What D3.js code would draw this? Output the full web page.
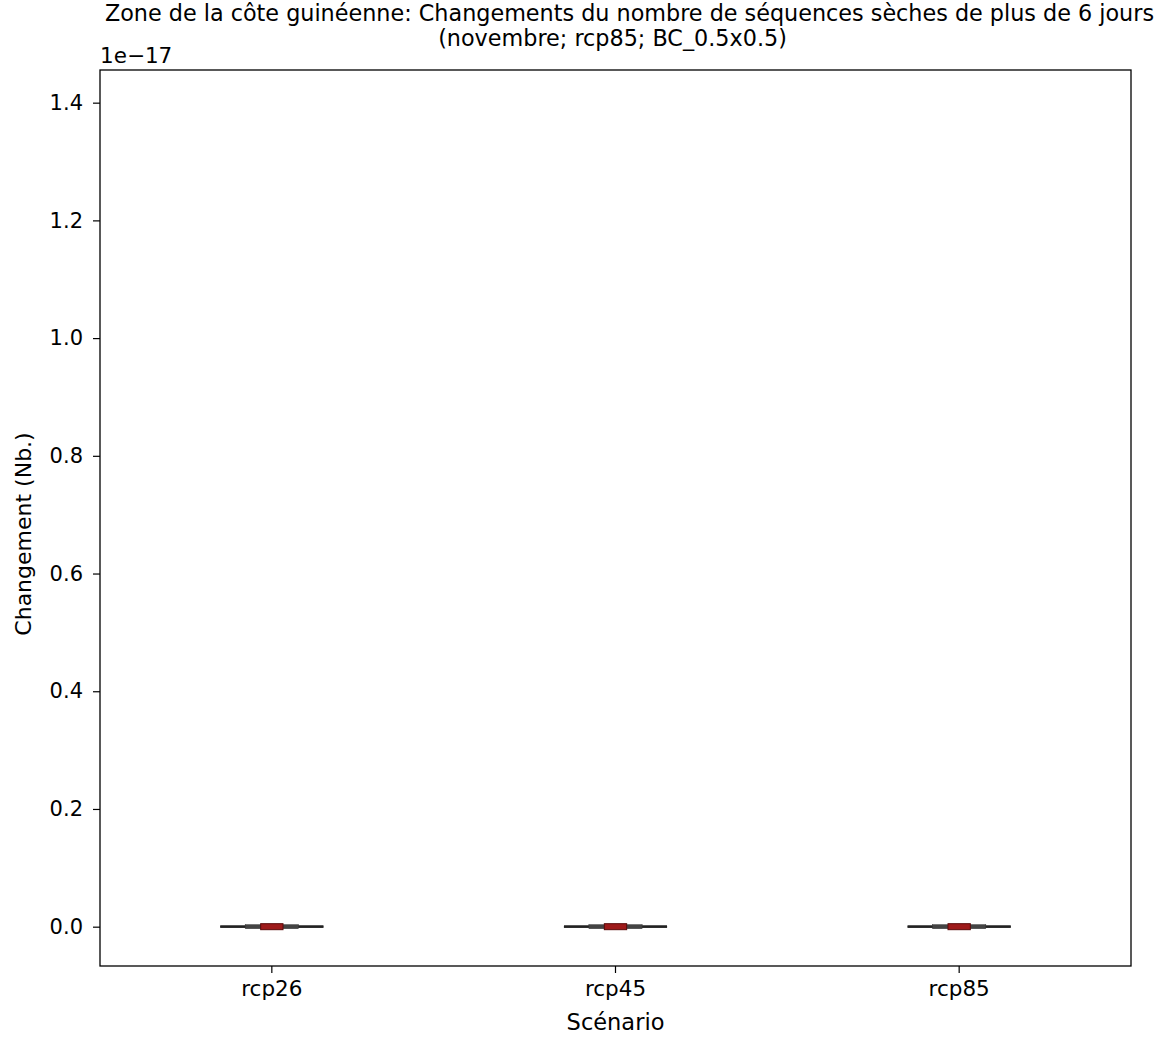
<!DOCTYPE html>
<html>
<head>
<meta charset="utf-8">
<script src="https://cdn.jsdelivr.net/npm/d3@7"></script>
<style>
  html, body { margin: 0; padding: 0; background: #fff; }
  text { font-family: "DejaVu Sans", sans-serif; fill: #000; }
</style>
</head>
<body>
<svg id="chart" width="1164" height="1038"></svg>
<script>
// ---- data (values in units of 1e-17) ----
const scenarios = ["rcp26", "rcp45", "rcp85"];
const whiskerLow = [0, 0, 0];
const q1 = [0, 0, 0];
const median = [0, 0, 0];
const q3 = [0, 0, 0];
const whiskerHigh = [0, 0, 0];
const yTicks = [0.0, 0.2, 0.4, 0.6, 0.8, 1.0, 1.2, 1.4];
const yDomain = [-0.0668, 1.4555];
const titleLines = [
  "Zone de la côte guinéenne: Changements du nombre de séquences sèches de plus de 6 jours",
  "(novembre; rcp85; BC_0.5x0.5)"
];
const xLabel = "Scénario";
const yLabel = "Changement (Nb.)";
const offsetText = "1e\u221217";

// ---- layout ----
const svg = d3.select("#chart");
const mLeft = 100, mRight = 1131, mTop = 70, mBottom = 966;

const x = d3.scaleBand().domain(scenarios).range([mLeft, mRight]).padding(0);
const y = d3.scaleLinear().domain(yDomain).range([mBottom, mTop]);

const bw = x.bandwidth();

// axes
const yAxis = d3.axisLeft(y).tickValues(yTicks).tickSize(7).tickPadding(10)
  .tickFormat(d3.format(".1f"));
const gy = svg.append("g").attr("transform", `translate(${mLeft},0)`).call(yAxis);
gy.select(".domain").remove();
gy.selectAll("text").style("font-size", "21px").attr("fill", "#000");
gy.selectAll("line").attr("stroke", "#000").attr("stroke-width", 1.2);

const xAxis = d3.axisBottom(x).tickSize(7).tickPadding(8);
const gx = svg.append("g").attr("transform", `translate(0,${mBottom})`).call(xAxis);
gx.select(".domain").remove();
gx.selectAll("text").style("font-size", "21.5px").attr("fill", "#000");
gx.selectAll("line").attr("stroke", "#000").attr("stroke-width", 1.2);

// boxes
const g = svg.append("g");
scenarios.forEach((s, i) => {
  const cx = x(s) + bw / 2;
  const capW = bw * 0.15, boxW = bw * 0.0775, medW = bw * 0.025;
  // whiskers
  g.append("line")
    .attr("x1", cx).attr("x2", cx)
    .attr("y1", y(whiskerLow[i])).attr("y2", y(q1[i]))
    .attr("stroke", "#222").attr("stroke-width", 2);
  g.append("line")
    .attr("x1", cx).attr("x2", cx)
    .attr("y1", y(q3[i])).attr("y2", y(whiskerHigh[i]))
    .attr("stroke", "#222").attr("stroke-width", 2);
  // caps
  g.append("line")
    .attr("x1", cx - capW).attr("x2", cx + capW)
    .attr("y1", y(whiskerLow[i])).attr("y2", y(whiskerLow[i]))
    .attr("stroke", "#222").attr("stroke-width", 2.2);
  g.append("line")
    .attr("x1", cx - capW).attr("x2", cx + capW)
    .attr("y1", y(whiskerHigh[i])).attr("y2", y(whiskerHigh[i]))
    .attr("stroke", "#222").attr("stroke-width", 2.2);
  // box
  const yb = y(q3[i]), hb = Math.max(0, y(q1[i]) - y(q3[i]));
  g.append("rect")
    .attr("x", cx - boxW).attr("y", yb - 2)
    .attr("width", boxW * 2).attr("height", hb + 4)
    .attr("fill", "#444").attr("stroke", "#333").attr("stroke-width", 0.5);
  // median
  g.append("rect")
    .attr("x", cx - medW * 1.3).attr("y", y(median[i]) - 3)
    .attr("width", medW * 2.6).attr("height", 6)
    .attr("fill", "#9e1a1a").attr("stroke", "#5a0a0a").attr("stroke-width", 1);
});

// frame
svg.append("rect")
  .attr("x", mLeft).attr("y", mTop)
  .attr("width", mRight - mLeft).attr("height", mBottom - mTop)
  .attr("fill", "none").attr("stroke", "#000").attr("stroke-width", 1.3);

// offset text
svg.append("text").attr("x", mLeft).attr("y", 63)
  .style("font-size", "21.5px").text(offsetText);

// title
const cxTitle = (mLeft + mRight) / 2;
svg.append("text").attr("x", cxTitle + 14).attr("y", 21).attr("text-anchor", "middle")
  .style("font-size", "22.3px").text(titleLines[0]);
svg.append("text").attr("x", cxTitle - 3).attr("y", 46).attr("text-anchor", "middle")
  .style("font-size", "22.3px").text(titleLines[1]);

// axis labels
svg.append("text").attr("x", cxTitle).attr("y", 1030).attr("text-anchor", "middle")
  .style("font-size", "22.5px").text(xLabel);
svg.append("text")
  .attr("transform", `translate(31,${(mTop + mBottom) / 2 + 16}) rotate(-90)`)
  .attr("text-anchor", "middle")
  .style("font-size", "22px").text(yLabel);
</script>
</body>
</html>
